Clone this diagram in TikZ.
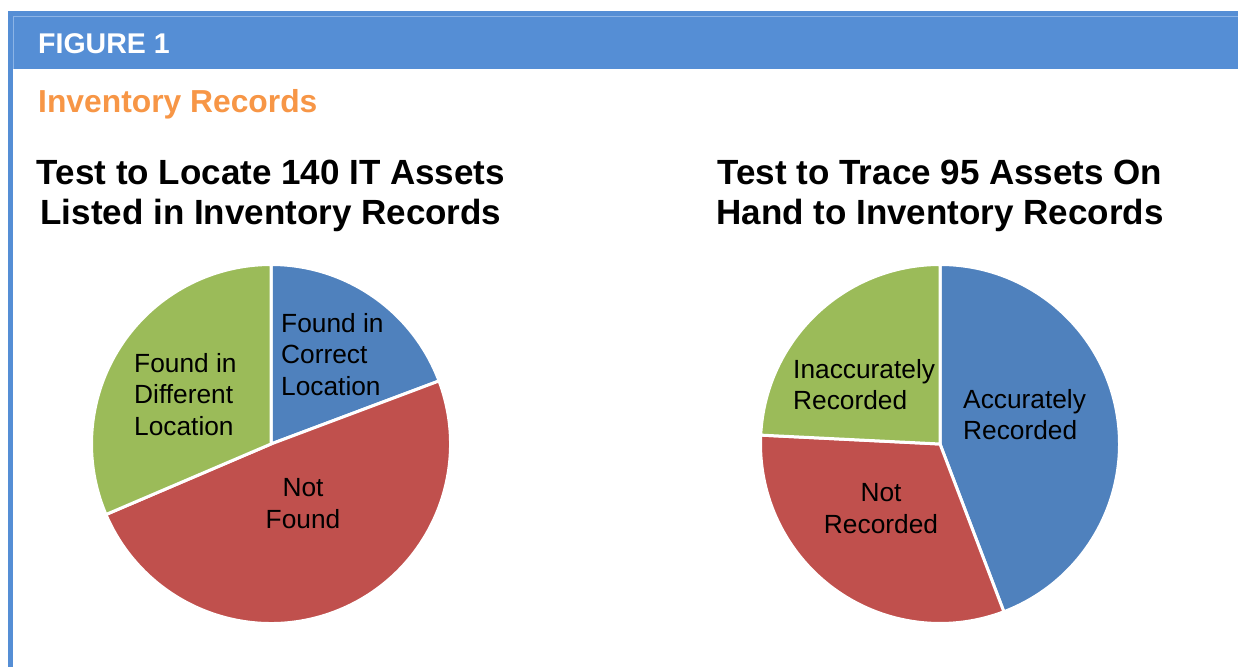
\documentclass[tikz,border=0pt]{standalone}
\usepackage{fontspec}
\setmainfont{Liberation Sans}
\definecolor{hdrblue}{RGB}{85,142,213}
\definecolor{hdrline}{RGB}{140,180,230}
\definecolor{sliceblue}{RGB}{79,129,189}
\definecolor{slicered}{RGB}{192,80,77}
\definecolor{slicegreen}{RGB}{155,187,89}
\definecolor{accentorange}{RGB}{247,150,70}
\tikzset{
  slice/.style={draw=white, line width=3pt, line join=round},
  charttitle/.style={font=\bfseries\fontsize{35}{40.5}\selectfont, align=center, anchor=north, inner sep=0pt},
  slicelabel/.style={font=\fontsize{26.3}{31.7}\selectfont, align=left, anchor=north west, inner sep=0pt},
  slicelabelc/.style={font=\fontsize{26.3}{32.6}\selectfont, align=center, anchor=north, inner sep=0pt}
}
\begin{document}
\begin{tikzpicture}[x=1pt,y=1pt]
\useasboundingbox (0,0) rectangle (1238,667);
% frame: header band and left rule
\fill[hdrblue] (8,598) rectangle (1238,656);
\fill[hdrblue] (8,0) rectangle (13,598);
\draw[hdrline, line width=0.8pt] (13,598) -- (13,651) -- (1238,651);
\node[anchor=base west, inner sep=0pt, text=white, font=\bfseries\fontsize{28.5}{30}\selectfont] (fig) at (38,613) {FIGURE 1};
\node[anchor=base west, inner sep=0pt, text=accentorange, font=\bfseries\fontsize{31.8}{33}\selectfont] (sub) at (38,554) {Inventory Records};

% chart titles
\node[charttitle] (t1) at (271,507.6) {Test to Locate 140 IT Assets\\Listed in Inventory Records};
\node[charttitle] (t2) at (940,507.6) {Test to Trace 95 Assets On\\Hand to Inventory Records};

% left pie: 27 / 69 / 44 of 140
\begin{scope}[shift={(271,223)}]
  \filldraw[slice, fill=sliceblue] (0,0) -- (90:179.5) arc[start angle=90, end angle=20.57, radius=179.5] -- cycle;
  \filldraw[slice, fill=slicered] (0,0) -- (20.57:179.5) arc[start angle=20.57, end angle=-156.86, radius=179.5] -- cycle;
  \filldraw[slice, fill=slicegreen] (0,0) -- (-156.86:179.5) arc[start angle=-156.86, end angle=-270, radius=179.5] -- cycle;
\end{scope}
\node[slicelabel] (lb) at (281,354) {Found in\\Correct\\Location};
\node[slicelabel] (lg) at (134,314) {Found in\\Different\\Location};
\node[slicelabelc] (lr) at (303,189) {Not\\Found};

% right pie: 42 / 30 / 23 of 95
\begin{scope}[shift={(940,223)}]
  \filldraw[slice, fill=sliceblue] (0,0) -- (90:179.5) arc[start angle=90, end angle=-69.16, radius=179.5] -- cycle;
  \filldraw[slice, fill=slicered] (0,0) -- (-69.16:179.5) arc[start angle=-69.16, end angle=-182.84, radius=179.5] -- cycle;
  \filldraw[slice, fill=slicegreen] (0,0) -- (-182.84:179.5) arc[start angle=-182.84, end angle=-270, radius=179.5] -- cycle;
\end{scope}
\node[slicelabel] (rg) at (793,308) {Inaccurately\\Recorded};
\node[slicelabel] (rb) at (963,278) {Accurately\\Recorded};
\node[slicelabelc] (rr) at (881,184) {Not\\Recorded};
\end{tikzpicture}
\end{document}
